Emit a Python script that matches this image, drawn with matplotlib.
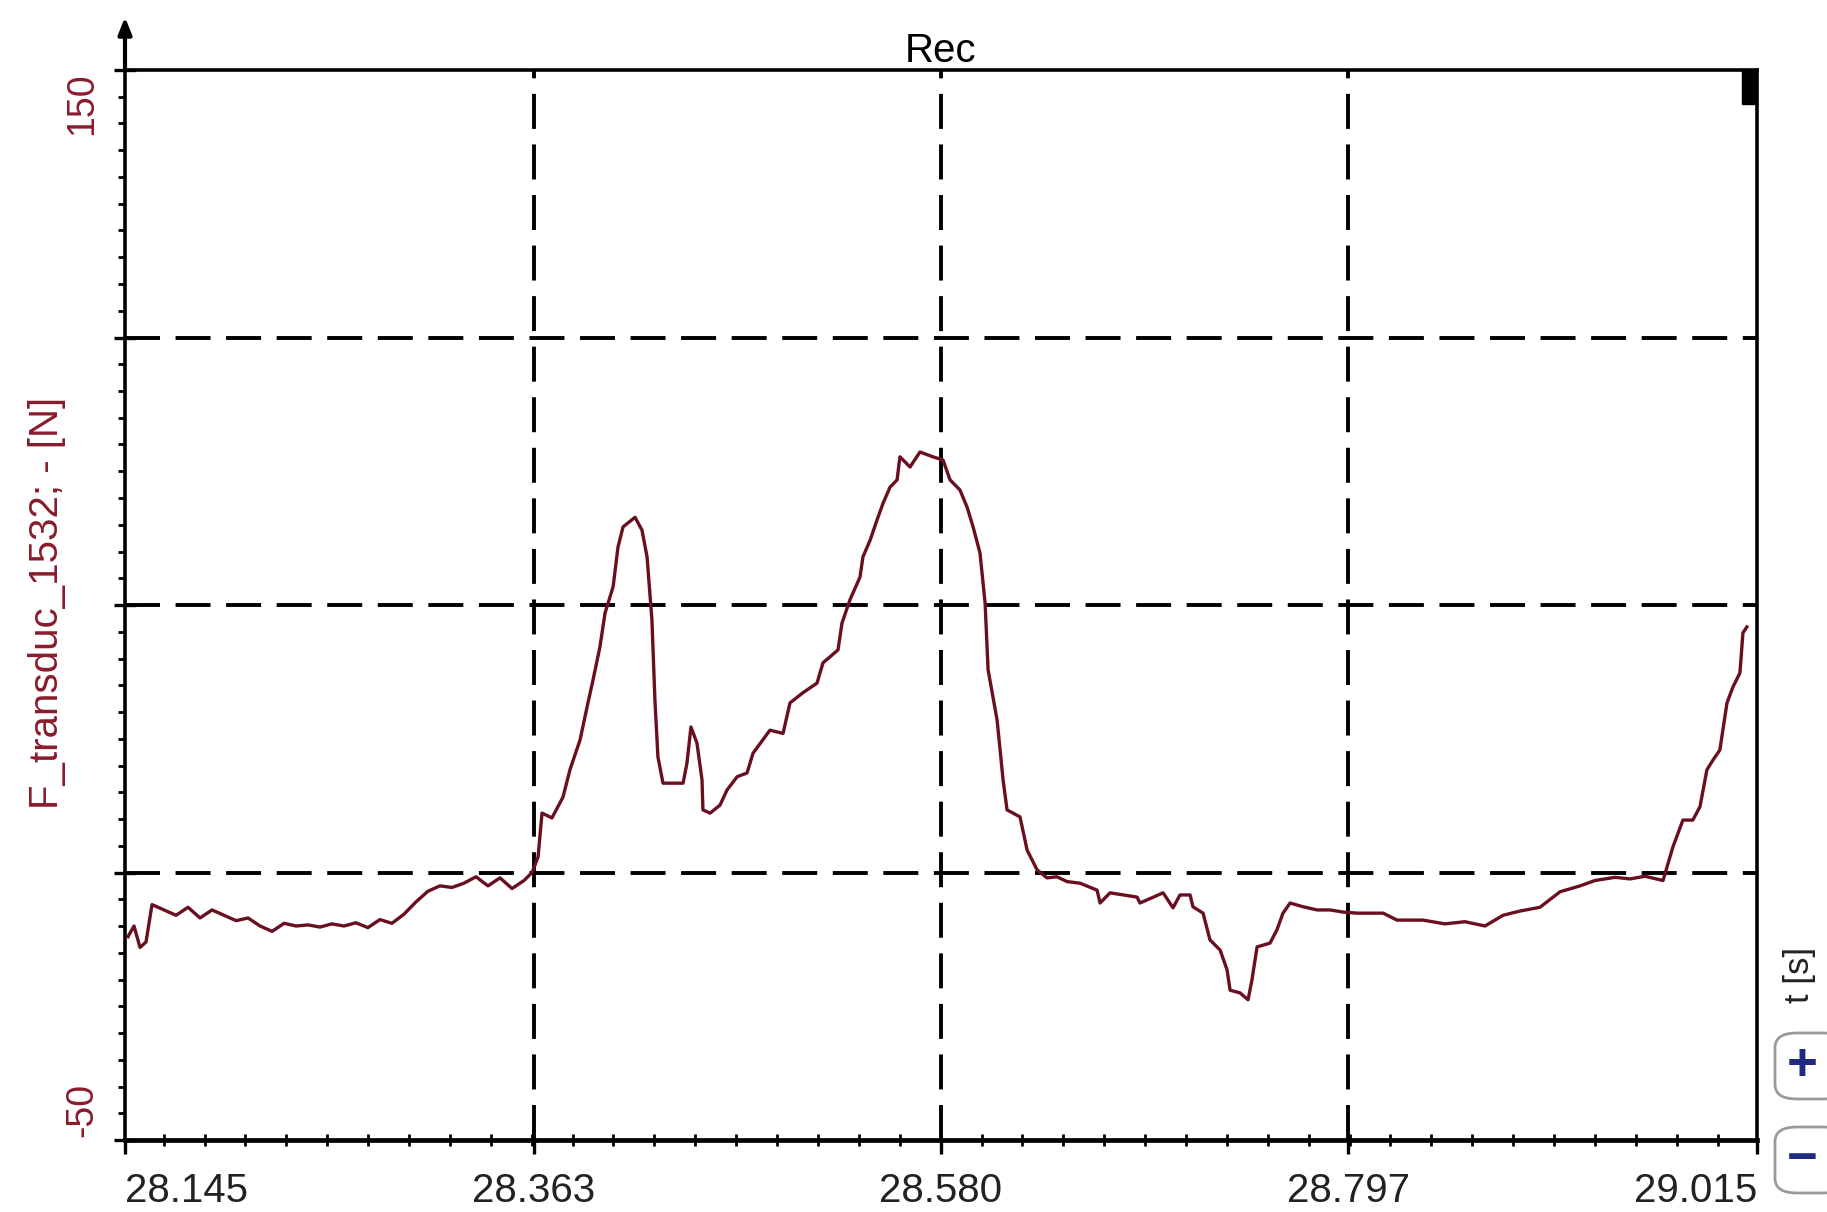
import numpy as np
import matplotlib
matplotlib.use("Agg")
import matplotlib.pyplot as plt
from matplotlib.patches import FancyBboxPatch, Rectangle
from matplotlib.ticker import MultipleLocator, FixedLocator
import matplotlib.transforms as mtransforms

plt.rcParams['font.family'] = ['Liberation Sans', 'DejaVu Sans']

# samples: time [s], force [N]
t_s = [28.1466, 28.1498, 28.1530, 28.1562, 28.1594, 28.1658, 28.1722, 28.1786,
       28.1850, 28.1914, 28.1978, 28.2042, 28.2106, 28.2170, 28.2234, 28.2298,
       28.2362, 28.2426, 28.2490, 28.2553, 28.2617, 28.2681, 28.2745, 28.2809,
       28.2873, 28.2937, 28.3001, 28.3065, 28.3129, 28.3193, 28.3257, 28.3321,
       28.3385, 28.3449, 28.3513, 28.3577, 28.3620, 28.3652, 28.3673, 28.3726,
       28.3785, 28.3822, 28.3876, 28.3913, 28.3945, 28.3982, 28.4009, 28.4052,
       28.4078, 28.4105, 28.4169, 28.4206, 28.4233, 28.4259, 28.4275, 28.4291,
       28.4318, 28.4425, 28.4446, 28.4467, 28.4499, 28.4526, 28.4531, 28.4569,
       28.4622, 28.4659, 28.4713, 28.4766, 28.4798, 28.4888, 28.4958, 28.4995,
       28.5064, 28.5139, 28.5171, 28.5251, 28.5272, 28.5315, 28.5368, 28.5384,
       28.5422, 28.5459, 28.5491, 28.5528, 28.5566, 28.5581, 28.5635, 28.5688,
       28.5757, 28.5811, 28.5848, 28.5901, 28.5939, 28.5971, 28.6008, 28.6035,
       28.6051, 28.6099, 28.6131, 28.6152, 28.6221, 28.6259, 28.6312, 28.6365,
       28.6418, 28.6472, 28.6541, 28.6632, 28.6648, 28.6701, 28.6845, 28.6861,
       28.6984, 28.7037, 28.7074, 28.7128, 28.7143, 28.7197, 28.7234, 28.7288,
       28.7325, 28.7341, 28.7394, 28.7437, 28.7458, 28.7485, 28.7554, 28.7591,
       28.7623, 28.7661, 28.7730, 28.7805, 28.7874, 28.7944, 28.8019, 28.8157,
       28.8231, 28.8370, 28.8486, 28.8593, 28.8700, 28.8796, 28.8887, 28.8993,
       28.9100, 28.9207, 28.9286, 28.9393, 28.9473, 28.9553, 28.9649, 28.9670,
       28.9702, 28.9755, 28.9808, 28.9846, 28.9883, 28.9915, 28.9952, 28.9990,
       29.0022, 29.0059, 29.0075, 29.0096]
force_n = [-12, -10, -14, -13, -6, -7, -8, -6.5,
           -8.5, -7, -8, -9, -8.5, -10, -11, -9.5,
           -10, -9.8, -10.2, -9.6, -10, -9.4, -10.3, -8.8,
           -9.5, -7.8, -5.5, -3.5, -2.5, -2.8, -2, -0.8,
           -2.5, -1, -3, -1.5, 0, 2.9, 11.1, 10.2,
           14.1, 19.2, 24.8, 30.9, 36, 42.2, 48.5, 53.4,
           60.8, 64.6, 66.4, 64, 59, 47.2, 32.2, 21.6,
           16.7, 16.7, 20.5, 27.2, 24.2, 17.3, 11.7, 11.1,
           12.6, 15.4, 17.9, 18.6, 22.3, 26.6, 26, 31.7,
           33.6, 35.4, 39.2, 41.6, 46.6, 51, 55.2, 59,
           62.1, 65.9, 69, 72, 73.4, 77.7, 75.8, 78.6,
           77.7, 77.1, 73.4, 71.5, 68.3, 64.6, 59.7, 50.4,
           37.9, 28.5, 17.3, 11.7, 10.4, 4.2, 0.5, -1,
           -0.8, -1.7, -2, -3.3, -5.7, -3.8, -4.6, -5.7,
           -3.8, -6.6, -4.2, -4.2, -6.4, -7.6, -12.6, -14.5,
           -18.2, -22, -22.5, -23.8, -20, -13.9, -13.2, -10.7,
           -7.6, -5.7, -6.4, -7, -7, -7.4, -7.6, -7.6,
           -8.9, -8.9, -9.6, -9.2, -10, -8, -7.2, -6.5,
           -3.6, -2.5, -1.5, -0.9, -1.2, -0.7, -1.5, 1,
           4.8, 9.8, 9.8, 12.3, 19.2, 21, 22.9, 31.7,
           34.7, 37.3, 44.8, 45.9]

x_ticks = [28.145, 28.363, 28.580, 28.797, 29.015]
x_tick_labels = ['28.145', '28.363', '28.580', '28.797', '29.015']
y_grid = [0, 50, 100]
y_min, y_max = -50, 150

RED = '#8a1c2c'

fig = plt.figure(figsize=(18.27, 12.12), dpi=100)
ax = fig.add_axes([125 / 1827, 72 / 1212, 1632 / 1827, 1070 / 1212])

ax.plot(t_s, force_n, color='#6a0f20', lw=2.4, zorder=3)

ax.set_xlim(x_ticks[0], x_ticks[-1])
ax.set_ylim(y_min, y_max)

# dashed grid, drawn by hand so the end ticks get no grid line
for xv in x_ticks[1:-1]:
    ax.axvline(xv, color='black', lw=2.8, ls=(0, (9, 4)), zorder=2)
for yv in y_grid:
    ax.axhline(yv, color='black', lw=2.8, ls=(0, (9, 4)), zorder=2)

ax.xaxis.set_major_locator(FixedLocator(x_ticks))
ax.set_xticklabels(x_tick_labels, fontsize=29, color='#222222')
ax.xaxis.set_minor_locator(MultipleLocator((x_ticks[1] - x_ticks[0]) / 10))
labs = ax.get_xticklabels()
labs[0].set_ha('left')
labs[-1].set_ha('right')
ax.tick_params(axis='x', which='major', direction='out', length=10, width=2.4, pad=13)
ax.tick_params(axis='x', which='minor', direction='inout', length=8, width=2.0)

ax.yaxis.set_major_locator(FixedLocator([-50, 0, 50, 100, 150]))
ax.yaxis.set_minor_locator(MultipleLocator(5))
ax.set_yticklabels([])
ax.tick_params(axis='y', which='major', direction='inout', length=16, width=2.4)
ax.tick_params(axis='y', which='minor', direction='out', length=5, width=2.0)

for side in ['left', 'top', 'right']:
    ax.spines[side].set_linewidth(2.6)
ax.spines['bottom'].set_linewidth(3.4)

# end values of the y range, rotated, kept inside the range
trans = mtransforms.blended_transform_factory(ax.transAxes, ax.transData)
ax.text(-0.026, y_max - 0.5, str(y_max), transform=trans, rotation=90, ha='center',
        va='top', fontsize=27, color=RED)
ax.text(-0.026, y_min + 0.5, str(y_min), transform=trans, rotation=90, ha='center',
        va='bottom', fontsize=27, color=RED)
ax.text(-0.048, 0.502, 'F_transduc_1532; - [N]', transform=ax.transAxes, rotation=90,
        ha='center', va='center', fontsize=29, color=RED)

ax.set_title('Rec', fontsize=29, pad=6)

# axis arrow on top of the y axis and cursor block top right
ax.annotate('', xy=(0, 1.052), xytext=(0, 1.0), xycoords='axes fraction',
            arrowprops=dict(arrowstyle='-|>,head_length=1.0,head_width=0.4',
                            color='black', lw=3), annotation_clip=False)
ax.add_patch(Rectangle((0.991, 0.968), 0.009, 0.032, transform=ax.transAxes,
                       color='black', clip_on=False, zorder=5))

# zoom controls on the right edge
fig.text(1800 / 1827, 1 - 975 / 1212, 't [s]', rotation=90, ha='center', va='center',
         fontsize=25, color='#222222')
for yc, sym in [(1066, '+'), (1160, '\u2212')]:
    box = FancyBboxPatch((1775 / 1827, 1 - (yc + 33) / 1212), 70 / 1827, 66 / 1212,
                         boxstyle='round,pad=0,rounding_size=0.012',
                         transform=fig.transFigure, facecolor='white',
                         edgecolor='#9a9a9a', lw=2)
    fig.patches.append(box)
    fig.text(1802 / 1827, 1 - yc / 1212, sym, ha='center', va='center',
             fontsize=38, fontweight='bold', color='#1f2a80')

fig.savefig('out.png', dpi=100, facecolor='white')
